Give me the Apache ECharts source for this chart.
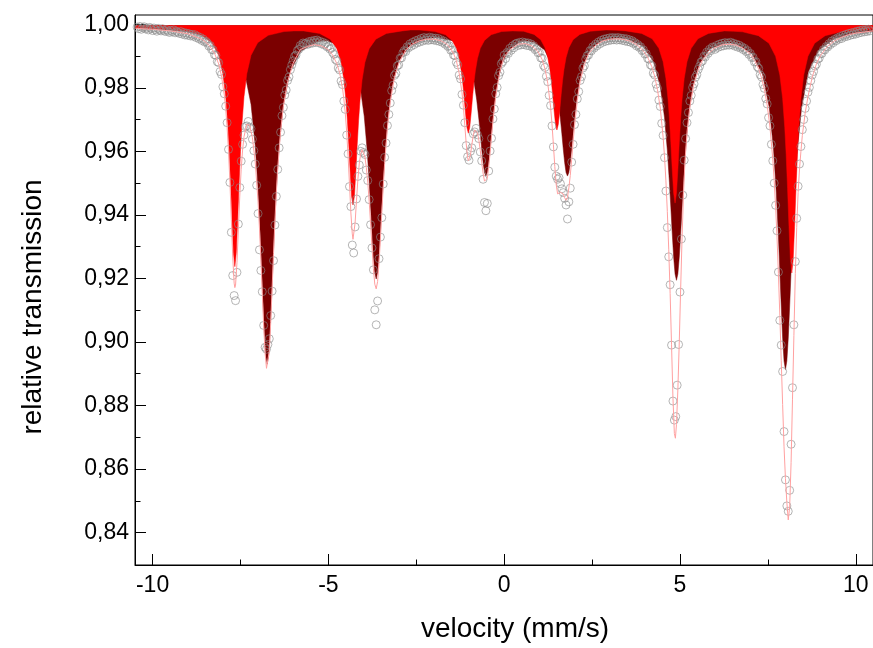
<!DOCTYPE html>
<html>
<head>
<meta charset="utf-8">
<script src="https://cdn.jsdelivr.net/npm/echarts@6/dist/echarts.min.js"></script>
<style>
  html, body { margin: 0; padding: 0; background: #fff; }
  #chart { width: 873px; height: 648px; }
</style>
</head>
<body>
<div id="chart"></div>
<script>
// Mössbauer spectrum: measured channels, two fitted sextets and the total fit.

// Channel velocity calibration (mm/s)
const velocityStart = -10.44;
const velocityStep = 0.04;

// Measured relative transmission, one value per channel
const transmission = [
  0.9991, 0.9986, 0.9993, 0.9984, 0.9989, 0.9992, 0.9985, 0.9988, 0.9982, 0.9990,
  0.9986, 0.9980, 0.9988, 0.9983, 0.9978, 0.9987, 0.9982, 0.9979, 0.9986, 0.9981,
  0.9977, 0.9983, 0.9978, 0.9974, 0.9981, 0.9976, 0.9982, 0.9973, 0.9978, 0.9975,
  0.9971, 0.9977, 0.9969, 0.9974, 0.9966, 0.9972, 0.9965, 0.9970, 0.9963, 0.9968,
  0.9962, 0.9967, 0.9958, 0.9962, 0.9954, 0.9958, 0.9949, 0.9953, 0.9944, 0.9946,
  0.9941, 0.9931, 0.9933, 0.9920, 0.9919, 0.9904, 0.9902, 0.9882, 0.9879, 0.9851,
  0.9842, 0.9803, 0.9781, 0.9742, 0.9690, 0.9606, 0.9502, 0.9345, 0.9209, 0.9146,
  0.9130, 0.9219, 0.9371, 0.9486, 0.9569, 0.9622, 0.9651, 0.9678, 0.9680, 0.9694,
  0.9676, 0.9671, 0.9638, 0.9602, 0.9560, 0.9493, 0.9404, 0.9290, 0.9225, 0.9158,
  0.9052, 0.8983, 0.8977, 0.8992, 0.9010, 0.9083, 0.9160, 0.9256, 0.9368, 0.9458,
  0.9543, 0.9611, 0.9660, 0.9712, 0.9738, 0.9777, 0.9793, 0.9823, 0.9834, 0.9857,
  0.9872, 0.9885, 0.9899, 0.9903, 0.9917, 0.9921, 0.9933, 0.9929, 0.9941, 0.9938,
  0.9940, 0.9936, 0.9945, 0.9939, 0.9947, 0.9941, 0.9949, 0.9943, 0.9950, 0.9942,
  0.9946, 0.9938, 0.9943, 0.9935, 0.9939, 0.9929, 0.9931, 0.9922, 0.9924, 0.9911,
  0.9905, 0.9889, 0.9885, 0.9862, 0.9856, 0.9821, 0.9810, 0.9758, 0.9732, 0.9651,
  0.9592, 0.9489, 0.9426, 0.9305, 0.9280, 0.9362, 0.9450, 0.9521, 0.9557, 0.9600,
  0.9611, 0.9596, 0.9590, 0.9541, 0.9508, 0.9448, 0.9369, 0.9296, 0.9227, 0.9101,
  0.9054, 0.9129, 0.9262, 0.9330, 0.9391, 0.9497, 0.9581, 0.9626, 0.9681, 0.9716,
  0.9752, 0.9791, 0.9808, 0.9839, 0.9845, 0.9869, 0.9872, 0.9893, 0.9894, 0.9910,
  0.9917, 0.9914, 0.9929, 0.9926, 0.9938, 0.9931, 0.9943, 0.9936, 0.9948, 0.9941,
  0.9951, 0.9944, 0.9955, 0.9947, 0.9958, 0.9950, 0.9956, 0.9949, 0.9959, 0.9951,
  0.9957, 0.9950, 0.9956, 0.9948, 0.9955, 0.9946, 0.9951, 0.9943, 0.9947, 0.9937,
  0.9941, 0.9930, 0.9932, 0.9918, 0.9919, 0.9903, 0.9901, 0.9880, 0.9872, 0.9840,
  0.9828, 0.9779, 0.9745, 0.9690, 0.9618, 0.9583, 0.9572, 0.9600, 0.9611, 0.9655,
  0.9661, 0.9672, 0.9652, 0.9640, 0.9598, 0.9570, 0.9512, 0.9439, 0.9413, 0.9436,
  0.9538, 0.9601, 0.9641, 0.9702, 0.9733, 0.9781, 0.9801, 0.9838, 0.9849, 0.9876,
  0.9882, 0.9903, 0.9892, 0.9911, 0.9908, 0.9924, 0.9918, 0.9932, 0.9926, 0.9938,
  0.9940, 0.9933, 0.9943, 0.9935, 0.9944, 0.9936, 0.9942, 0.9933, 0.9941, 0.9932,
  0.9938, 0.9928, 0.9932, 0.9920, 0.9923, 0.9910, 0.9911, 0.9894, 0.9893, 0.9870,
  0.9864, 0.9836, 0.9819, 0.9776, 0.9744, 0.9680, 0.9614, 0.9550, 0.9522, 0.9512,
  0.9517, 0.9498, 0.9482, 0.9470, 0.9452, 0.9431, 0.9387, 0.9441, 0.9484, 0.9566,
  0.9622, 0.9684, 0.9716, 0.9765, 0.9788, 0.9823, 0.9835, 0.9862, 0.9869, 0.9890,
  0.9901, 0.9903, 0.9917, 0.9916, 0.9929, 0.9925, 0.9937, 0.9932, 0.9944, 0.9938,
  0.9949, 0.9943, 0.9953, 0.9946, 0.9955, 0.9948, 0.9957, 0.9950, 0.9958, 0.9951,
  0.9957, 0.9950, 0.9958, 0.9951, 0.9956, 0.9949, 0.9955, 0.9947, 0.9954, 0.9945,
  0.9951, 0.9943, 0.9948, 0.9939, 0.9942, 0.9932, 0.9936, 0.9927, 0.9929, 0.9917,
  0.9919, 0.9906, 0.9907, 0.9892, 0.9890, 0.9872, 0.9869, 0.9846, 0.9840, 0.9811,
  0.9798, 0.9761, 0.9741, 0.9688, 0.9650, 0.9580, 0.9475, 0.9360, 0.9268, 0.9180,
  0.8990, 0.8814, 0.8754, 0.8765, 0.8864, 0.8992, 0.9157, 0.9324, 0.9462, 0.9572,
  0.9640, 0.9690, 0.9722, 0.9758, 0.9776, 0.9801, 0.9812, 0.9833, 0.9841, 0.9858,
  0.9868, 0.9881, 0.9884, 0.9899, 0.9897, 0.9912, 0.9908, 0.9921, 0.9917, 0.9928,
  0.9926, 0.9921, 0.9933, 0.9927, 0.9937, 0.9930, 0.9940, 0.9932, 0.9942, 0.9934,
  0.9941, 0.9934, 0.9943, 0.9935, 0.9940, 0.9931, 0.9937, 0.9928, 0.9934, 0.9925,
  0.9929, 0.9920, 0.9924, 0.9914, 0.9917, 0.9905, 0.9908, 0.9895, 0.9896, 0.9881,
  0.9882, 0.9866, 0.9861, 0.9841, 0.9834, 0.9810, 0.9798, 0.9766, 0.9749, 0.9706,
  0.9680, 0.9622, 0.9570, 0.9500, 0.9430, 0.9350, 0.9220, 0.9068, 0.8990, 0.8907,
  0.8718, 0.8566, 0.8484, 0.8467, 0.8533, 0.8678, 0.8856, 0.9054, 0.9253, 0.9389,
  0.9490, 0.9560, 0.9615, 0.9668, 0.9700, 0.9735, 0.9758, 0.9786, 0.9801, 0.9822,
  0.9840, 0.9851, 0.9868, 0.9874, 0.9890, 0.9893, 0.9907, 0.9908, 0.9920, 0.9919,
  0.9930, 0.9928, 0.9939, 0.9936, 0.9947, 0.9942, 0.9952, 0.9948, 0.9957, 0.9953,
  0.9961, 0.9955, 0.9965, 0.9960, 0.9968, 0.9962, 0.9971, 0.9965, 0.9973, 0.9967,
  0.9975, 0.9969, 0.9978, 0.9972, 0.9980, 0.9974, 0.9982, 0.9976, 0.9983, 0.9977,
  0.9984, 0.9979
];

// Fitted sub-spectrum A (narrow-line sextet), [velocity, transmission]
const sextetA = [
  [-10.49,0.9988],[-9.5,0.9983],[-9.06,0.9977],[-8.61,0.9965],[-8.31,0.9942],[-8.12,0.9902],
  [-8.00,0.9844],[-7.92,0.9772],[-7.86,0.9683],[-7.82,0.9600],[-7.78,0.9496],[-7.74,0.9380],
  [-7.70,0.9279],[-7.66,0.9237],[-7.62,0.9279],[-7.58,0.9380],[-7.54,0.9496],[-7.50,0.9600],
  [-7.46,0.9683],[-7.40,0.9772],[-7.32,0.9844],[-7.20,0.9902],[-7.01,0.9942],[-6.71,0.9965],
  [-6.26,0.9977],[-5.98,0.9979],[-5.70,0.9979],[-5.25,0.9971],[-4.95,0.9953],[-4.76,0.9923],
  [-4.64,0.9880],[-4.56,0.9826],[-4.50,0.9760],[-4.46,0.9698],[-4.42,0.9621],[-4.38,0.9534],
  [-4.34,0.9458],[-4.30,0.9431],[-4.26,0.9458],[-4.22,0.9534],[-4.18,0.9621],[-4.14,0.9698],
  [-4.10,0.9760],[-4.04,0.9826],[-3.96,0.9880],[-3.84,0.9923],[-3.65,0.9953],[-3.35,0.9971],
  [-2.90,0.9979],[-2.66,0.9982],[-2.42,0.9982],[-1.97,0.9977],[-1.67,0.9967],[-1.48,0.9949],
  [-1.36,0.9924],[-1.28,0.9892],[-1.22,0.9853],[-1.18,0.9817],[-1.14,0.9771],[-1.10,0.9720],
  [-1.06,0.9675],[-1.02,0.9657],[-0.98,0.9675],[-0.94,0.9720],[-0.90,0.9771],[-0.86,0.9817],
  [-0.82,0.9853],[-0.76,0.9892],[-0.68,0.9924],[-0.56,0.9949],[-0.37,0.9967],[-0.07,0.9977],
  [0.24,0.9979],[0.55,0.9978],[0.85,0.9968],[1.04,0.9951],[1.16,0.9926],[1.24,0.9895],
  [1.30,0.9857],[1.34,0.9822],[1.38,0.9778],[1.42,0.9728],[1.46,0.9685],[1.50,0.9667],
  [1.54,0.9685],[1.58,0.9728],[1.62,0.9778],[1.66,0.9822],[1.70,0.9857],[1.76,0.9895],
  [1.84,0.9926],[1.96,0.9951],[2.15,0.9968],[2.45,0.9978],[2.90,0.9982],[3.18,0.9981],
  [3.46,0.9979],[3.91,0.9971],[4.21,0.9954],[4.40,0.9924],[4.52,0.9882],[4.60,0.9829],
  [4.66,0.9764],[4.70,0.9704],[4.74,0.9627],[4.78,0.9542],[4.82,0.9468],[4.86,0.9437],
  [4.90,0.9468],[4.94,0.9542],[4.98,0.9627],[5.02,0.9704],[5.06,0.9764],[5.12,0.9829],
  [5.20,0.9882],[5.32,0.9924],[5.51,0.9954],[5.81,0.9971],[6.26,0.9979],[6.52,0.9978],
  [6.78,0.9976],[7.23,0.9964],[7.53,0.9940],[7.72,0.9899],[7.84,0.9840],[7.92,0.9766],
  [7.98,0.9675],[8.02,0.9590],[8.06,0.9483],[8.10,0.9364],[8.14,0.9260],[8.18,0.9217],
  [8.22,0.9260],[8.26,0.9364],[8.30,0.9483],[8.34,0.9590],[8.38,0.9675],[8.44,0.9766],
  [8.52,0.9840],[8.64,0.9899],[8.83,0.9940],[9.13,0.9964],[9.58,0.9976],[10.49,0.9984]
];

// Fitted sub-spectrum B (broad-line sextet), [velocity, transmission]
const sextetB = [
  [-10.49,0.9987],[-9.5,0.9982],[-8.74,0.9975],[-8.14,0.9958],[-7.69,0.9921],[-7.39,0.9853],
  [-7.20,0.9748],[-7.08,0.9618],[-7.00,0.9481],[-6.94,0.9344],[-6.90,0.9238],[-6.86,0.9129],
  [-6.82,0.9028],[-6.78,0.8956],[-6.74,0.8930],[-6.70,0.8955],[-6.66,0.9027],[-6.62,0.9128],
  [-6.58,0.9237],[-6.54,0.9343],[-6.48,0.9480],[-6.40,0.9617],[-6.28,0.9746],[-6.09,0.9850],
  [-5.79,0.9915],[-5.34,0.9944],[-5.19,0.9947],[-5.04,0.9948],[-4.59,0.9929],[-4.29,0.9882],
  [-4.10,0.9806],[-3.98,0.9710],[-3.90,0.9607],[-3.84,0.9505],[-3.80,0.9428],[-3.76,0.9346],
  [-3.72,0.9271],[-3.68,0.9218],[-3.64,0.9198],[-3.60,0.9218],[-3.56,0.9271],[-3.52,0.9346],
  [-3.48,0.9428],[-3.44,0.9506],[-3.38,0.9608],[-3.30,0.9711],[-3.18,0.9808],[-2.99,0.9886],
  [-2.69,0.9931],[-2.24,0.9954],[-2.08,0.9957],[-1.92,0.9958],[-1.47,0.9948],[-1.17,0.9921],
  [-0.98,0.9876],[-0.86,0.9821],[-0.78,0.9761],[-0.72,0.9701],[-0.68,0.9656],[-0.64,0.9608],
  [-0.60,0.9565],[-0.56,0.9533],[-0.52,0.9522],[-0.48,0.9533],[-0.44,0.9565],[-0.40,0.9608],
  [-0.36,0.9656],[-0.32,0.9701],[-0.26,0.9761],[-0.18,0.9821],[-0.06,0.9876],[0.13,0.9919],
  [0.43,0.9943],[0.64,0.9948],[0.85,0.9943],[1.15,0.9919],[1.34,0.9875],[1.46,0.9820],
  [1.54,0.9761],[1.60,0.9701],[1.64,0.9656],[1.68,0.9608],[1.72,0.9565],[1.76,0.9533],
  [1.80,0.9522],[1.84,0.9533],[1.88,0.9565],[1.92,0.9608],[1.96,0.9656],[2.00,0.9701],
  [2.06,0.9761],[2.14,0.9820],[2.26,0.9875],[2.45,0.9921],[2.75,0.9947],[3.20,0.9957],
  [3.30,0.9957],[3.50,0.9954],[3.95,0.9931],[4.25,0.9882],[4.44,0.9804],[4.56,0.9707],
  [4.64,0.9604],[4.70,0.9502],[4.74,0.9424],[4.78,0.9342],[4.82,0.9267],[4.86,0.9214],
  [4.90,0.9194],[4.94,0.9214],[4.98,0.9267],[5.02,0.9342],[5.06,0.9424],[5.10,0.9502],
  [5.16,0.9604],[5.24,0.9707],[5.36,0.9804],[5.55,0.9875],[5.85,0.9923],[6.30,0.9941],
  [6.45,0.9941],[6.60,0.9938],[7.05,0.9908],[7.35,0.9842],[7.54,0.9738],[7.66,0.9608],
  [7.74,0.9469],[7.80,0.9331],[7.84,0.9224],[7.88,0.9113],[7.92,0.9012],[7.96,0.8940],
  [8.00,0.8913],[8.04,0.8940],[8.08,0.9012],[8.12,0.9113],[8.16,0.9224],[8.20,0.9331],
  [8.26,0.9469],[8.34,0.9608],[8.46,0.9738],[8.65,0.9850],[8.95,0.9919],[9.40,0.9955],
  [10.0,0.9972],[10.49,0.9978]
];

// Sum of both sub-spectra (total fit), [velocity, transmission]
const fitTotal = [
  [-10.49,0.9987],[-10.0,0.9984],[-9.5,0.9979],[-9.0,0.9970],[-8.6,0.9953],[-8.4,0.9935],
  [-8.24,0.9909],[-8.12,0.9875],[-8.04,0.9837],[-7.96,0.9777],[-7.92,0.9733],[-7.88,0.9675],
  [-7.84,0.9600],[-7.80,0.9502],[-7.76,0.9385],[-7.72,0.9267],[-7.68,0.9185],[-7.66,0.9171],
  [-7.64,0.9179],[-7.60,0.9249],[-7.56,0.9355],[-7.52,0.9459],[-7.48,0.9543],[-7.44,0.9604],
  [-7.40,0.9646],[-7.32,0.9685],[-7.24,0.9682],[-7.16,0.9643],[-7.08,0.9566],[-7.00,0.9441],
  [-6.96,0.9358],[-6.92,0.9260],[-6.88,0.9155],[-6.84,0.9051],[-6.80,0.8965],[-6.76,0.8917],
  [-6.74,0.8911],[-6.72,0.8919],[-6.68,0.8971],[-6.64,0.9061],[-6.60,0.9169],[-6.56,0.9279],
  [-6.52,0.9381],[-6.48,0.9471],[-6.44,0.9547],[-6.36,0.9662],[-6.28,0.9742],[-6.16,0.9819],
  [-6.00,0.9878],[-5.80,0.9920],[-5.60,0.9930],[-5.40,0.9936],[-5.20,0.9932],[-5.00,0.9920],
  [-4.88,0.9903],[-4.76,0.9876],[-4.68,0.9847],[-4.60,0.9800],[-4.56,0.9765],[-4.52,0.9721],
  [-4.48,0.9662],[-4.44,0.9586],[-4.40,0.9498],[-4.36,0.9406],[-4.32,0.9340],[-4.30,0.9323],
  [-4.28,0.9329],[-4.24,0.9375],[-4.20,0.9446],[-4.16,0.9513],[-4.12,0.9563],[-4.08,0.9593],
  [-4.04,0.9605],[-4.00,0.9601],[-3.96,0.9582],[-3.92,0.9549],[-3.88,0.9503],[-3.84,0.9443],
  [-3.80,0.9374],[-3.76,0.9300],[-3.72,0.9231],[-3.68,0.9182],[-3.64,0.9167],[-3.60,0.9190],
  [-3.56,0.9247],[-3.52,0.9324],[-3.48,0.9408],[-3.44,0.9489],[-3.40,0.9562],[-3.32,0.9676],
  [-3.24,0.9756],[-3.12,0.9833],[-3.00,0.9876],[-2.80,0.9919],[-2.60,0.9938],[-2.40,0.9948],
  [-2.20,0.9953],[-2.00,0.9953],[-1.80,0.9948],[-1.64,0.9938],[-1.52,0.9923],[-1.44,0.9908],
  [-1.36,0.9885],[-1.28,0.9846],[-1.20,0.9785],[-1.16,0.9739],[-1.12,0.9682],[-1.08,0.9624],
  [-1.04,0.9580],[-1.02,0.9570],[-1.00,0.9569],[-0.96,0.9588],[-0.92,0.9621],[-0.88,0.9650],
  [-0.84,0.9667],[-0.80,0.9669],[-0.76,0.9658],[-0.72,0.9635],[-0.68,0.9603],[-0.64,0.9566],
  [-0.60,0.9531],[-0.56,0.9506],[-0.52,0.9500],[-0.48,0.9515],[-0.44,0.9550],[-0.40,0.9596],
  [-0.36,0.9647],[-0.32,0.9695],[-0.24,0.9775],[-0.12,0.9853],[0.00,0.9898],[0.20,0.9923],
  [0.40,0.9937],[0.60,0.9939],[0.80,0.9931],[0.96,0.9914],[1.08,0.9889],[1.16,0.9860],
  [1.24,0.9814],[1.32,0.9739],[1.36,0.9686],[1.40,0.9621],[1.44,0.9552],[1.48,0.9495],
  [1.52,0.9466],[1.56,0.9463],[1.60,0.9471],[1.64,0.9473],[1.68,0.9466],[1.72,0.9454],
  [1.76,0.9446],[1.80,0.9455],[1.84,0.9485],[1.88,0.9524],[1.92,0.9574],[1.96,0.9629],
  [2.00,0.9679],[2.08,0.9760],[2.16,0.9819],[2.28,0.9873],[2.40,0.9907],[2.60,0.9933],
  [2.80,0.9947],[3.00,0.9953],[3.20,0.9954],[3.40,0.9952],[3.60,0.9946],[3.80,0.9933],
  [3.96,0.9916],[4.08,0.9896],[4.20,0.9866],[4.28,0.9836],[4.36,0.9794],[4.44,0.9736],
  [4.52,0.9645],[4.56,0.9584],[4.60,0.9507],[4.64,0.9411],[4.68,0.9292],[4.72,0.9153],
  [4.76,0.8991],[4.80,0.8825],[4.84,0.8712],[4.87,0.8697],[4.90,0.8740],[4.94,0.8850],
  [4.98,0.9000],[5.02,0.9170],[5.06,0.9330],[5.10,0.9465],[5.14,0.9565],[5.20,0.9660],
  [5.28,0.9740],[5.40,0.9812],[5.52,0.9856],[5.64,0.9886],[5.80,0.9907],[6.00,0.9926],
  [6.20,0.9935],[6.40,0.9937],[6.60,0.9934],[6.80,0.9924],[7.00,0.9905],[7.12,0.9886],
  [7.24,0.9858],[7.32,0.9831],[7.40,0.9795],[7.48,0.9746],[7.56,0.9676],[7.64,0.9575],
  [7.68,0.9508],[7.72,0.9427],[7.76,0.9330],[7.80,0.9215],[7.84,0.9084],[7.88,0.8942],
  [7.92,0.8803],[7.96,0.8670],[8.00,0.8570],[8.04,0.8495],[8.08,0.8440],[8.12,0.8480],
  [8.16,0.8620],[8.20,0.8820],[8.24,0.9020],[8.28,0.9215],[8.32,0.9360],[8.36,0.9470],
  [8.40,0.9545],[8.44,0.9600],[8.48,0.9650],[8.56,0.9720],[8.64,0.9772],[8.76,0.9833],
  [8.88,0.9875],[9.00,0.9902],[9.20,0.9931],[9.40,0.9948],[9.60,0.9959],[9.80,0.9967],
  [10.0,0.9972],[10.49,0.9979]
];

// Off-resonance baseline the sub-spectra hang from
const baselineTransmission = 0.9997;

// Axis ticks
const xMajorTicks = [-10, -5, 0, 5, 10];
const xMinorTicks = [-7.5, -2.5, 2.5, 7.5];
const yMajorTicks = [0.84, 0.86, 0.88, 0.90, 0.92, 0.94, 0.96, 0.98, 1.00];
const yMinorTicks = [0.85, 0.87, 0.89, 0.91, 0.93, 0.95, 0.97, 0.99];

const xRange = [-10.5, 10.49];
const yRange = [0.8298, 1.0029];

const measured = transmission.map((t, i) => [
  Math.round((velocityStart + i * velocityStep) * 100) / 100, t
]);

const FONT = "'Liberation Sans', Arial, Helvetica, sans-serif";

const chart = echarts.init(document.getElementById('chart'), null, { renderer: 'canvas' });

// Axis that only carries the short minor ticks
const minorAxis = (range, position, ticks) => ({
  type: 'value',
  min: range[0], max: range[1], position: position, offset: 0,
  axisLine: { show: false, onZero: false },
  axisLabel: { show: false },
  splitLine: { show: false },
  axisTick: { show: true, inside: true, length: 5.5, customValues: ticks,
              lineStyle: { color: '#000', width: 1 } }
});

chart.setOption({
  animation: false,
  backgroundColor: '#ffffff',
  textStyle: { fontFamily: FONT },
  grid: {
    left: 135, top: 15, width: 740, bottom: 81,
    show: true, borderColor: '#000', borderWidth: 1, backgroundColor: 'transparent'
  },
  xAxis: [
    {
      type: 'value', min: xRange[0], max: xRange[1], position: 'bottom',
      name: 'velocity (mm/s)', nameLocation: 'middle', nameGap: 50,
      nameTextStyle: { fontSize: 28, color: '#000', fontFamily: FONT, padding: [0, 0, 0, 22] },
      axisLine: { show: true, onZero: false, lineStyle: { color: '#000', width: 1 } },
      axisTick: { show: true, inside: true, length: 11, customValues: xMajorTicks,
                  lineStyle: { color: '#000', width: 1 } },
      axisLabel: { show: true, customValues: xMajorTicks, fontSize: 23, color: '#000',
                   margin: 9, fontFamily: FONT },
      splitLine: { show: false }
    },
    minorAxis(xRange, 'bottom', xMinorTicks)
  ],
  yAxis: [
    {
      type: 'value', min: yRange[0], max: yRange[1], position: 'left',
      name: 'relative transmission', nameLocation: 'middle', nameGap: 88,
      nameTextStyle: { fontSize: 28, color: '#000', fontFamily: FONT, padding: [0, 34, 0, 0] },
      axisLine: { show: true, onZero: false, lineStyle: { color: '#000', width: 1 } },
      axisTick: { show: true, inside: true, length: 11, customValues: yMajorTicks,
                  lineStyle: { color: '#000', width: 1 } },
      axisLabel: { show: true, customValues: yMajorTicks, fontSize: 23, color: '#000',
                   margin: 6, fontFamily: FONT,
                   formatter: v => v.toFixed(2).replace('.', ',') },
      splitLine: { show: false }
    },
    minorAxis(yRange, 'left', yMinorTicks)
  ],
  series: [
    {
      name: 'sextet B', type: 'line', data: sextetB, showSymbol: false, silent: true, z: 2,
      lineStyle: { color: '#7b0000', width: 0.5 },
      areaStyle: { color: '#7b0000', opacity: 1, origin: baselineTransmission }
    },
    {
      name: 'sextet A', type: 'line', data: sextetA, showSymbol: false, silent: true, z: 3,
      lineStyle: { color: '#ff0000', width: 0.5 },
      areaStyle: { color: '#ff0000', opacity: 1, origin: baselineTransmission }
    },
    {
      name: 'measured', type: 'scatter', data: measured, symbol: 'circle', symbolSize: 8,
      silent: true, z: 4,
      itemStyle: { color: 'rgba(255,255,255,0)', borderColor: '#8a8a8a', borderWidth: 0.8 }
    },
    {
      name: 'total fit', type: 'line', data: fitTotal, showSymbol: false, silent: true, z: 5,
      lineStyle: { color: '#ffa0a0', width: 1 }
    }
  ]
});
</script>
</body>
</html>
